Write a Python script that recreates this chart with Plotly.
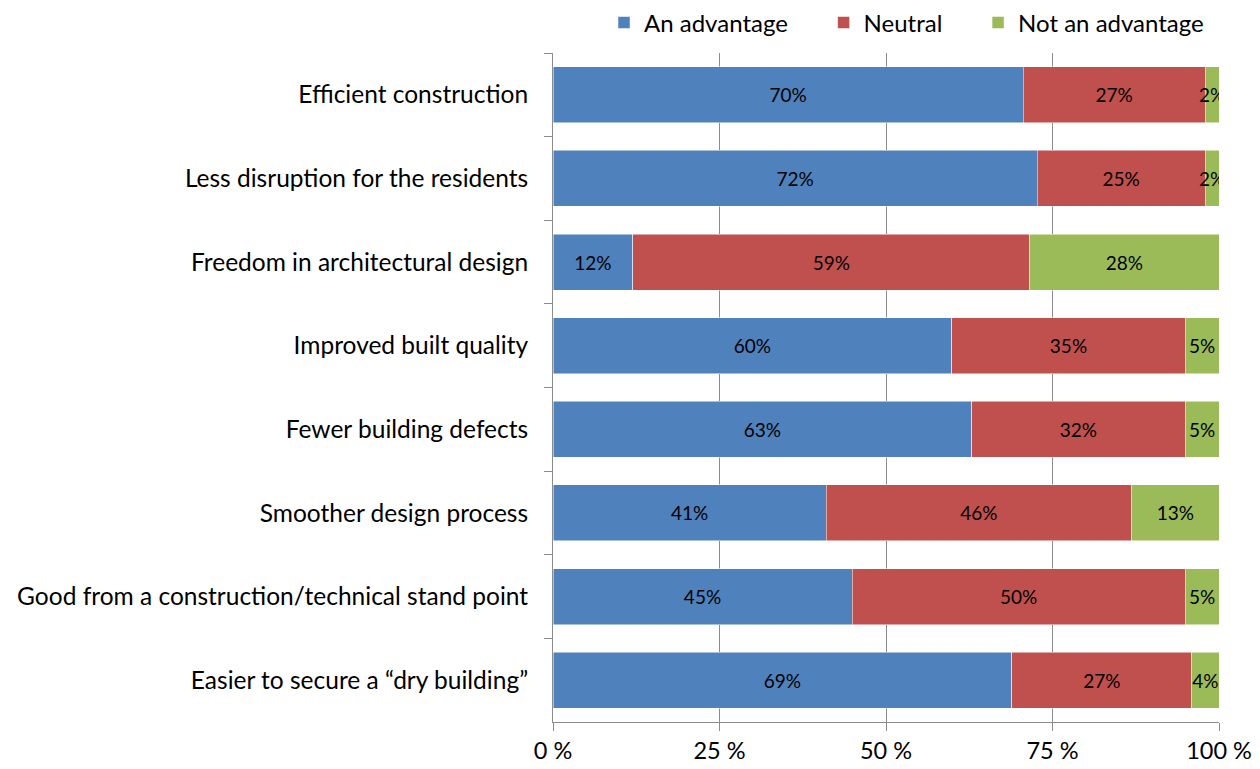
import plotly.graph_objects as go

categories = [
    "Efficient construction",
    "Less disruption for the residents",
    "Freedom in architectural design",
    "Improved built quality",
    "Fewer building defects",
    "Smoother design process",
    "Good from a construction/technical stand point",
    "Easier to secure a \u201cdry building\u201d",
]

# share of respondents (%)
advantage = [70.6, 72.7, 12.0, 59.9, 62.9, 41.0, 44.9, 68.9]
neutral = [27.3, 25.2, 59.6, 35.0, 32.0, 45.9, 50.0, 27.0]
not_advantage = [2.1, 2.1, 28.4, 5.1, 5.1, 13.1, 5.1, 4.1]

# labels printed on the bars
advantage_lbl = ["70%", "72%", "12%", "60%", "63%", "41%", "45%", "69%"]
neutral_lbl = ["27%", "25%", "59%", "35%", "32%", "46%", "50%", "27%"]
not_advantage_lbl = ["2%", "2%", "28%", "5%", "5%", "13%", "5%", "4%"]

x_ticks = [0, 25, 50, 75, 100]
x_tick_text = ["0 %", "25 %", "50 %", "75 %", "100 %"]

FONT = "Lato"
PAD = "\u00a0" * 5  # extra room between legend entries

series = [
    ("An advantage", advantage, advantage_lbl, "#4F81BD", PAD),
    ("Neutral", neutral, neutral_lbl, "#C0504D", PAD),
    ("Not an advantage", not_advantage, not_advantage_lbl, "#9BBB59", ""),
]

fig = go.Figure()
for name, vals, lbls, color, pad in series:
    fig.add_trace(go.Bar(
        y=categories,
        x=vals,
        name=name + pad,
        orientation="h",
        marker=dict(color=color, line=dict(color="white", width=0.5)),
        text=lbls,
        textposition="inside",
        insidetextanchor="middle",
        textangle=0,
        textfont=dict(family=FONT, size=19, color="black"),
        constraintext="none",
        hovertemplate=name + ": %{x:.1f}%<extra></extra>",
    ))

# the page body adds an 8px offset, so the figure is shrunk by that much
fig.update_layout(
    barmode="stack",
    bargap=0.33,
    width=1252,
    height=761,
    margin=dict(l=545, r=41, t=45, b=47, autoexpand=False),
    paper_bgcolor="white",
    plot_bgcolor="white",
    font=dict(family=FONT, size=20, color="black"),
    uniformtext=dict(mode="show", minsize=19),
    legend=dict(
        orientation="h",
        x=0.985,
        xanchor="right",
        y=1.045,
        yanchor="middle",
        font=dict(family=FONT, size=24),
        traceorder="normal",
        itemwidth=30,
    ),
    xaxis=dict(
        range=[0, 100],
        tickvals=x_ticks,
        ticktext=x_tick_text,
        showgrid=True,
        gridcolor="#8C8C8C",
        gridwidth=1,
        showline=True,
        linecolor="#8C8C8C",
        ticks="outside",
        ticklen=8,
        tickcolor="#8C8C8C",
        zeroline=False,
        automargin=False,
        tickfont=dict(family=FONT, size=23.5),
    ),
    yaxis=dict(
        autorange="reversed",
        showline=True,
        linecolor="#8C8C8C",
        ticks="outside",
        tickson="boundaries",
        ticklen=8,
        tickcolor="#8C8C8C",
        ticklabelstandoff=19,
        automargin=False,
        tickfont=dict(family=FONT, size=24.5),
    ),
)

fig.write_html("out.html")
